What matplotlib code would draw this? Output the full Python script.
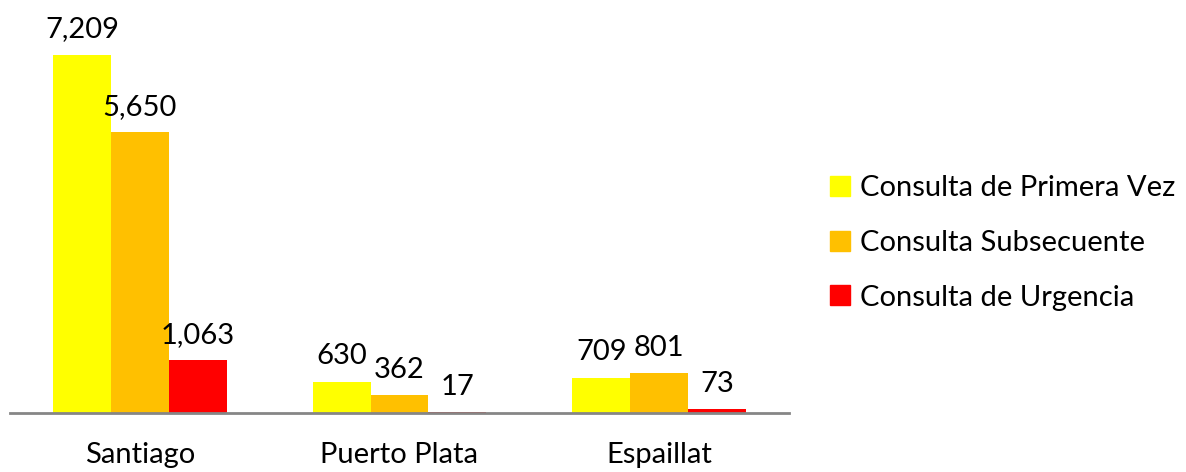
import matplotlib
matplotlib.use("Agg")
import matplotlib.pyplot as plt
from matplotlib.lines import Line2D
import numpy as np

categories = ["Santiago", "Puerto Plata", "Espaillat"]
series_names = ["Consulta de Primera Vez", "Consulta Subsecuente", "Consulta de Urgencia"]
primera_vez = [7209, 630, 709]
subsecuente = [5650, 362, 801]
urgencia = [1063, 17, 73]
colors = ["#FFFF00", "#FFC000", "#FF0000"]

plt.rcParams['font.family'] = ['Lato', 'DejaVu Sans']
FS = 21

fig = plt.figure(figsize=(11.86, 4.72), dpi=100)
ax = fig.add_axes([10/1186, 59/472, 779/1186, 397.3/472])

x = np.arange(len(categories))
w = 0.223
series = [primera_vez, subsecuente, urgencia]
for i, (vals, c, name) in enumerate(zip(series, colors, series_names)):
    bars = ax.bar(x + (i - 1) * w, vals, width=w, color=c, label=name)
    for b, v in zip(bars, vals):
        ax.annotate(f"{v:,}", (b.get_x() + b.get_width() / 2, b.get_height()),
                    xytext=(0, 9), textcoords="offset points",
                    ha="center", va="bottom", fontsize=FS, color="black")

ax.set_xlim(-0.5, 2.5)
ax.set_ylim(0, 8000)
for s in ["top", "right", "left"]:
    ax.spines[s].set_visible(False)
ax.spines["bottom"].set_color("#868686")
ax.spines["bottom"].set_linewidth(2)
ax.set_yticks([])
ax.set_xticks(x)
ax.set_xticklabels(categories, fontsize=FS)
ax.tick_params(axis="x", length=0, pad=21)

handles = [Line2D([], [], marker="s", linestyle="none", markersize=14,
                  markerfacecolor=c, markeredgecolor=c) for c in colors]
fig.legend(handles, series_names, loc="center left",
           bbox_to_anchor=(831/1186, 229/472), frameon=False,
           fontsize=FS, handlelength=0.6, handletextpad=0.4,
           labelspacing=0.98, borderpad=0, borderaxespad=0)

fig.savefig("out.png", dpi=100)
